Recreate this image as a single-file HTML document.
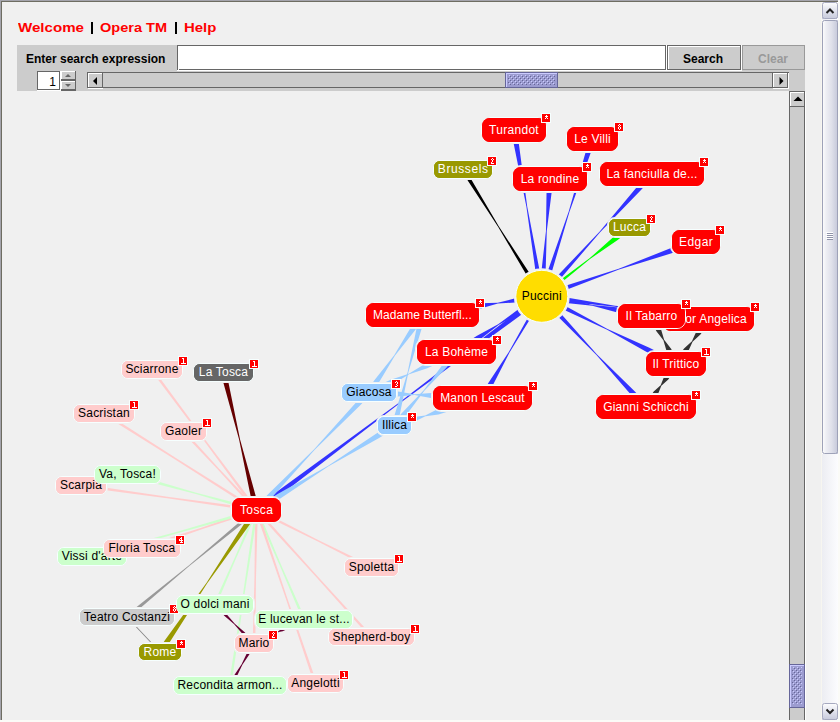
<!DOCTYPE html>
<html><head><meta charset="utf-8">
<style>
*{margin:0;padding:0;box-sizing:border-box}
html,body{width:840px;height:722px;overflow:hidden;background:#f0f0f0;font-family:"Liberation Sans",sans-serif}
.abs{position:absolute}
svg{position:absolute;left:0;top:0}
.hw{top:20px;font-weight:bold;font-size:13px;color:#ff0000;white-space:nowrap;transform-origin:0 0}
#lbl{left:26px;top:52px;font-weight:bold;font-size:12px;color:#000;white-space:nowrap}
.bt{font-weight:bold;font-size:12px;white-space:nowrap}
svg text{font-family:"Liberation Sans",sans-serif;font-size:12px;letter-spacing:0.2px}
</style></head><body>
<svg width="840" height="722" shape-rendering="crispEdges">
<defs>
 <pattern id="bumps" x="0" y="0" width="4" height="4" patternUnits="userSpaceOnUse">
  <rect x="1" y="3" width="1" height="1" fill="#ccccff"/><rect x="3" y="1" width="1" height="1" fill="#ccccff"/>
  <rect x="2" y="0" width="1" height="1" fill="#666699"/><rect x="0" y="2" width="1" height="1" fill="#666699"/>
 </pattern>
</defs>
<rect x="0" y="0" width="840" height="722" fill="#f0f0f0"/>
<!-- toolbar -->
<rect x="17" y="45" width="788" height="46" fill="#cccccc"/>
<!-- text field -->
<rect x="177" y="45" width="490" height="26" fill="#ffffff"/>
<rect x="177" y="45" width="489" height="1" fill="#666"/>
<rect x="177" y="45" width="1" height="25" fill="#666"/>
<rect x="179" y="69" width="487" height="1" fill="#666"/>
<rect x="665" y="45" width="1" height="25" fill="#666"/>
<!-- search button -->
<rect x="667" y="45" width="75" height="26" fill="#ffffff"/>
<rect x="667" y="45" width="74" height="25" fill="#666"/>
<rect x="668" y="46" width="72" height="23" fill="#ffffff"/>
<rect x="669" y="47" width="71" height="22" fill="#cccccc"/>
<!-- clear button -->
<rect x="742" y="45" width="63" height="25" fill="#999"/>
<rect x="743" y="46" width="61" height="23" fill="#cccccc"/>
<!-- spinner -->
<rect x="37" y="71" width="24" height="20" fill="#fff"/>
<rect x="37" y="71" width="23" height="19" fill="#666"/>
<rect x="38" y="72" width="21" height="17" fill="#fff"/>
<rect x="61" y="71" width="15" height="20" fill="#666"/>
<rect x="61" y="71" width="14" height="8" fill="#fff"/>
<rect x="62" y="72" width="13" height="7" fill="#ccc"/>
<rect x="61" y="81" width="14" height="8" fill="#fff"/>
<rect x="62" y="82" width="13" height="7" fill="#ccc"/>
<polygon points="68,74 71,77 65,77" fill="#666" shape-rendering="auto"/>
<polygon points="68,87 71,84 65,84" fill="#666" shape-rendering="auto"/>
<!-- hscroll -->
<rect x="87" y="72" width="702" height="16" fill="#666"/>
<rect x="88" y="73" width="685" height="14" fill="#cccccc"/>
<rect x="88" y="73" width="15" height="16" fill="#fff"/>
<rect x="89" y="74" width="13" height="13" fill="#ccc"/>
<rect x="102" y="73" width="1" height="15" fill="#666"/>
<rect x="88" y="87" width="15" height="1" fill="#666"/>
<rect x="773" y="73" width="16" height="16" fill="#fff"/>
<rect x="773" y="73" width="14" height="14" fill="#fff"/>
<rect x="774" y="74" width="13" height="13" fill="#ccc"/>
<rect x="787" y="72" width="1" height="16" fill="#666"/>
<rect x="772" y="87" width="16" height="1" fill="#666"/>
<rect x="772" y="72" width="1" height="16" fill="#666"/>
<polygon points="93,81 97,77 97,85" fill="#000" shape-rendering="auto"/>
<polygon points="783.5,81 779.5,77 779.5,85" fill="#000" shape-rendering="auto"/>
<!-- hthumb -->
<rect x="505" y="72" width="53" height="16" fill="#666699"/>
<rect x="506" y="73" width="51" height="14" fill="#ccccff"/>
<rect x="507" y="74" width="50" height="13" fill="#9c9cd0"/>
<rect x="508" y="75" width="47" height="10" fill="url(#bumps)"/>
<!-- vscroll (graph) -->
<rect x="789" y="91" width="16" height="629" fill="#666"/>
<rect x="805" y="92" width="1" height="628" fill="#fff"/>
<rect x="790" y="107" width="14" height="613" fill="#cccccc"/>
<rect x="790" y="92" width="14" height="15" fill="#fff"/>
<rect x="791" y="93" width="13" height="13" fill="#ccc"/>
<rect x="804" y="92" width="1" height="15" fill="#666"/>
<rect x="790" y="106" width="14" height="1" fill="#666"/>
<polygon points="798,96.5 802.5,101 793.5,101" fill="#000" shape-rendering="auto"/>
<rect x="789" y="664" width="16" height="44" fill="#666699"/>
<rect x="790" y="665" width="14" height="42" fill="#ccccff"/>
<rect x="791" y="666" width="13" height="41" fill="#9c9cd0"/>
<rect x="792" y="667" width="10" height="37" fill="url(#bumps)"/>
</svg>
<div class="abs hw" style="left:18px;transform:scaleX(1.161)">Welcome</div>
<div class="abs" style="left:91px;top:22px;width:2px;height:12px;background:#000"></div>
<div class="abs" style="left:175px;top:22px;width:2px;height:12px;background:#000"></div>
<div class="abs hw" style="left:100px;transform:scaleX(1.119)">Opera TM</div>
<div class="abs hw" style="left:184px;transform:scaleX(1.148)">Help</div>
<div class="abs" id="lbl">Enter search expression</div>
<div class="abs bt" style="left:683px;top:52px;color:#000">Search</div>
<div class="abs bt" style="left:758px;top:52px;color:#999">Clear</div>
<div class="abs" style="left:38px;top:75px;width:18px;text-align:right;font-size:12px">1</div>
<svg width="840" height="722">
<defs><clipPath id="gc"><rect x="17" y="91" width="772" height="629"/></clipPath></defs>
<g clip-path="url(#gc)">
<polygon points="543.77,295.97 539.24,268.85 527.20,206.52 518.81,143.59 516.47,129.59 511.53,130.41 513.87,144.41 526.41,206.65 535.29,269.51 539.83,296.63" fill="#3333ff"/>
<polygon points="543.70,296.91 552.14,270.74 569.49,211.69 590.37,153.77 594.88,139.77 590.12,138.23 585.61,152.23 568.73,211.44 548.33,269.51 539.90,295.69" fill="#3333ff"/>
<polygon points="543.80,296.44 545.71,269.01 546.77,230.96 551.52,193.17 552.49,179.17 547.51,178.83 546.53,192.83 545.97,230.91 541.72,268.73 539.80,296.16" fill="#3333ff"/>
<polygon points="543.29,297.64 561.69,277.21 600.09,232.20 641.24,189.67 653.86,175.67 650.14,172.33 637.53,186.33 599.50,231.67 558.72,274.53 540.31,294.96" fill="#3333ff"/>
<polygon points="542.57,297.28 564.21,280.31 590.02,258.98 617.66,239.97 631.04,229.47 627.96,225.53 614.57,236.03 589.53,258.35 562.67,278.34 541.03,295.32" fill="#00ff00"/>
<polygon points="542.46,298.19 568.40,289.05 619.00,269.54 670.83,253.51 696.83,244.36 695.17,239.64 669.17,248.80 618.74,268.78 567.07,285.28 541.14,294.41" fill="#3333ff"/>
<polygon points="543.29,295.38 528.77,272.02 498.74,226.26 471.01,179.08 464.49,168.58 461.51,170.42 468.04,180.92 498.07,226.68 525.80,273.87 540.31,297.22" fill="#000000"/>
<polygon points="541.49,294.32 514.32,298.58 497.75,302.80 480.61,303.36 422.11,312.53 422.89,317.47 481.39,308.30 497.88,303.59 514.94,302.53 542.11,298.28" fill="#3333ff"/>
<polygon points="541.45,298.27 568.51,303.13 592.36,305.79 615.56,312.09 651.06,318.46 651.94,313.54 616.44,307.16 592.50,305.00 569.22,299.19 542.15,294.33" fill="#3333ff"/>
<polygon points="541.53,298.28 568.78,301.99 614.97,306.67 660.66,315.01 708.16,321.48 708.84,316.52 661.34,310.05 615.08,305.87 569.32,298.03 542.07,294.32" fill="#3333ff"/>
<polygon points="540.71,294.63 517.68,309.66 498.14,324.33 476.57,335.91 455.13,349.91 457.87,354.09 479.31,340.09 498.58,325.00 519.87,313.01 542.89,297.97" fill="#3333ff"/>
<polygon points="540.90,298.09 565.45,310.47 607.12,329.70 647.12,352.23 674.87,366.23 677.13,361.77 649.37,347.77 607.48,328.99 567.25,306.90 542.70,294.51" fill="#3333ff"/>
<polygon points="540.72,295.67 526.87,319.43 508.96,351.83 488.50,382.74 480.34,396.74 484.66,399.26 492.82,385.26 509.65,352.23 529.03,320.69 542.88,296.93" fill="#3333ff"/>
<polygon points="540.34,297.67 559.19,317.70 596.44,354.94 631.00,394.71 644.18,408.71 647.82,405.29 634.64,391.29 597.03,354.39 562.10,314.95 543.26,294.93" fill="#3333ff"/>
<polygon points="540.30,294.30 518.29,310.79 397.22,404.03 273.69,494.00 255.00,508.00 258.00,512.00 276.69,498.00 397.76,404.75 521.29,314.79 543.30,298.30" fill="#3333ff"/>
<polygon points="371.06,393.92 378.31,383.42 394.87,355.73 414.89,330.42 424.56,316.42 420.44,313.58 410.78,327.58 394.21,355.27 374.19,380.58 366.94,391.08" fill="#99ccff"/>
<polygon points="396.92,426.11 399.58,415.61 408.44,372.10 421.38,329.61 424.92,315.61 420.08,314.39 416.53,328.39 407.67,371.90 394.74,414.39 392.08,424.89" fill="#99ccff"/>
<polygon points="370.05,394.77 392.74,384.27 409.14,374.36 427.30,368.27 457.55,354.27 455.45,349.73 425.20,363.73 408.80,373.64 390.64,379.73 367.95,390.23" fill="#99ccff"/>
<polygon points="396.41,427.11 405.27,416.61 424.33,390.76 446.60,367.61 458.41,353.61 454.59,350.39 442.78,364.39 423.72,390.24 401.45,413.39 392.59,423.89" fill="#99ccff"/>
<polygon points="368.88,395.00 397.88,396.40 414.48,395.10 430.88,398.00 482.38,400.50 482.62,395.50 431.12,393.01 414.52,394.31 398.12,391.41 369.12,390.00" fill="#99ccff"/>
<polygon points="395.25,427.89 413.75,422.10 425.47,416.24 438.45,414.39 483.25,400.39 481.75,395.61 436.95,409.61 425.23,415.48 412.25,417.33 393.75,423.11" fill="#99ccff"/>
<polygon points="367.19,390.77 357.14,401.27 314.14,449.22 268.10,494.27 254.69,508.27 258.31,511.73 271.71,497.73 314.71,449.78 360.75,404.73 370.81,394.23" fill="#99ccff"/>
<polygon points="393.19,423.37 376.05,433.87 328.15,465.66 278.06,493.87 255.19,507.87 257.81,512.13 280.67,498.13 328.57,466.34 378.66,438.13 395.81,427.63" fill="#99ccff"/>
<polygon points="678.23,362.86 671.08,348.86 664.11,339.82 660.87,328.86 653.73,314.86 649.27,317.14 656.42,331.14 663.39,340.18 666.63,351.14 673.77,365.14" fill="#333333"/>
<polygon points="678.03,365.46 688.14,351.46 692.57,341.73 700.42,334.46 710.53,320.46 706.47,317.54 696.36,331.54 691.93,341.27 684.08,348.54 673.97,362.54" fill="#333333"/>
<polygon points="673.95,362.57 664.18,376.57 660.67,385.27 653.72,391.57 643.95,405.57 648.05,408.43 657.82,394.43 661.33,385.73 668.28,379.43 678.05,365.43" fill="#333333"/>
<polygon points="258.93,509.42 255.57,495.42 240.07,439.38 228.45,382.42 225.93,371.92 221.07,373.08 223.59,383.58 239.09,439.62 250.71,496.58 254.07,510.58" fill="#660000"/>
<polygon points="257.50,509.25 247.09,495.25 203.55,437.55 160.81,379.25 153.00,368.75 151.00,370.25 158.81,380.75 202.35,438.45 245.08,496.75 255.50,510.75" fill="#ffcccc"/>
<polygon points="257.17,508.94 235.04,494.94 177.89,459.37 121.26,422.94 104.67,412.44 103.33,414.56 119.92,425.06 177.08,460.63 233.71,497.06 255.83,511.06" fill="#ffcccc"/>
<polygon points="257.42,509.15 244.40,495.15 218.92,468.49 194.18,441.15 184.42,430.65 182.58,432.35 192.35,442.85 217.82,469.51 242.57,496.85 255.58,510.85" fill="#ffcccc"/>
<polygon points="256.83,508.79 230.33,501.50 196.20,492.63 162.33,482.79 127.83,473.29 127.17,475.71 161.67,485.20 195.80,494.07 229.67,503.91 256.17,511.21" fill="#ccffcc"/>
<polygon points="256.67,508.76 230.17,505.06 169.10,497.04 108.17,488.03 81.17,484.26 80.83,486.74 107.83,490.51 168.90,498.53 229.83,507.54 256.33,511.24" fill="#ffcccc"/>
<polygon points="256.10,508.82 229.60,517.73 201.37,527.74 172.83,536.82 141.60,547.32 142.40,549.68 173.63,539.18 201.85,529.17 230.40,520.10 256.90,511.18" fill="#ffcccc"/>
<polygon points="256.16,508.80 229.66,516.29 178.80,531.19 127.66,545.12 91.66,555.30 92.34,557.70 128.34,547.53 179.20,532.63 230.34,518.69 256.84,511.20" fill="#ccffcc"/>
<polygon points="255.94,511.12 282.44,524.37 316.41,540.80 349.94,558.12 370.94,568.62 372.06,566.38 351.06,555.88 317.09,539.45 283.56,522.13 257.06,508.88" fill="#ffcccc"/>
<polygon points="255.36,509.50 249.21,523.50 234.29,558.70 218.47,593.50 213.86,604.00 216.14,605.00 220.76,594.50 235.67,559.30 251.50,524.50 257.64,510.50" fill="#ccffcc"/>
<polygon points="255.54,508.84 238.60,522.84 189.04,565.15 138.15,605.84 126.04,615.84 127.96,618.16 140.06,608.16 189.62,565.85 240.51,525.16 257.46,511.16" fill="#999999"/>
<polygon points="255.35,510.50 261.43,524.50 280.32,566.80 298.30,609.50 302.85,620.00 305.15,619.00 300.59,608.50 281.70,566.20 263.72,523.50 257.65,509.50" fill="#ccffcc"/>
<polygon points="255.25,509.98 254.99,523.98 254.47,578.49 252.95,632.98 252.75,643.48 255.25,643.52 255.45,633.02 255.97,578.51 257.49,524.02 257.75,510.02" fill="#ffcccc"/>
<polygon points="255.57,510.84 268.25,524.84 315.26,576.00 361.52,627.84 370.57,637.84 372.43,636.16 363.37,626.16 316.37,575.00 270.10,523.16 257.43,509.16" fill="#ffcccc"/>
<polygon points="254.43,508.59 244.92,522.59 206.56,582.78 164.73,640.59 157.93,650.59 162.07,653.41 168.86,643.41 207.22,583.22 249.05,525.41 258.57,511.41" fill="#999900"/>
<polygon points="255.26,509.81 253.15,523.81 242.24,599.39 230.35,674.81 228.76,685.31 231.24,685.69 232.82,675.19 243.73,599.61 255.62,524.19 257.74,510.19" fill="#ccffcc"/>
<polygon points="255.32,510.40 260.08,524.40 285.89,598.74 310.75,673.40 314.32,683.90 316.68,683.10 313.11,672.60 287.31,598.26 262.44,523.60 257.68,509.60" fill="#ffcccc"/>
<polygon points="126.64,617.34 136.06,627.34 143.14,634.84 150.21,642.34 159.64,652.34 160.36,651.66 150.94,641.66 143.86,634.16 136.79,626.66 127.36,616.66" fill="#888888"/>
<polygon points="254.92,642.58 244.42,632.08 234.82,623.68 226.42,614.08 215.92,603.58 214.08,605.42 224.58,615.92 234.18,624.32 242.58,633.92 253.08,644.42" fill="#660033"/>
<polygon points="252.87,642.86 246.87,653.36 241.61,664.28 234.87,674.36 228.87,684.86 231.13,686.14 237.13,675.64 242.39,664.72 249.13,654.64 255.13,644.14" fill="#660033"/>
<polygon points="254.56,644.67 275.56,634.59 278.76,632.12 282.69,631.17 304.56,620.67 303.44,618.33 281.56,628.83 278.37,631.30 274.44,632.25 253.44,642.33" fill="#660033"/>
<circle cx="541.8" cy="296.3" r="28.0" fill="#f0f0f0"/><circle cx="541.8" cy="296.3" r="26.0" fill="#ffdd00" stroke="#f6ffff" stroke-width="1"/><text x="541.8" y="300" fill="#000" text-anchor="middle">Puccini</text>
<rect x="480" y="116" width="68" height="28" rx="10" fill="#f0f0f0"/>
<rect x="565" y="125" width="55" height="28" rx="10" fill="#f0f0f0"/>
<rect x="432" y="159" width="62" height="21" rx="8" fill="#f0f0f0"/>
<rect x="511" y="165" width="78" height="28" rx="10" fill="#f0f0f0"/>
<rect x="598" y="160" width="108" height="28" rx="10" fill="#f0f0f0"/>
<rect x="607" y="217" width="45" height="21" rx="8" fill="#f0f0f0"/>
<rect x="670" y="228" width="52" height="28" rx="10" fill="#f0f0f0"/>
<rect x="364" y="301" width="117" height="28" rx="10" fill="#f0f0f0"/>
<rect x="661" y="305" width="95" height="28" rx="10" fill="#f0f0f0"/>
<rect x="616" y="302" width="71" height="28" rx="10" fill="#f0f0f0"/>
<rect x="415" y="338" width="83" height="28" rx="10" fill="#f0f0f0"/>
<rect x="644" y="350" width="64" height="28" rx="10" fill="#f0f0f0"/>
<rect x="431" y="384" width="103" height="28" rx="10" fill="#f0f0f0"/>
<rect x="594" y="393" width="104" height="28" rx="10" fill="#f0f0f0"/>
<rect x="340" y="382" width="58" height="21" rx="8" fill="#f0f0f0"/>
<rect x="376" y="415" width="37" height="21" rx="8" fill="#f0f0f0"/>
<rect x="120" y="359" width="64" height="21" rx="8" fill="#f0f0f0"/>
<rect x="192" y="362" width="63" height="21" rx="8" fill="#f0f0f0"/>
<rect x="72" y="403" width="64" height="21" rx="8" fill="#f0f0f0"/>
<rect x="159" y="421" width="49" height="21" rx="8" fill="#f0f0f0"/>
<rect x="54" y="475" width="54" height="21" rx="8" fill="#f0f0f0"/>
<rect x="93" y="464" width="69" height="21" rx="8" fill="#f0f0f0"/>
<rect x="230" y="496" width="53" height="28" rx="10" fill="#f0f0f0"/>
<rect x="56" y="546" width="72" height="21" rx="8" fill="#f0f0f0"/>
<rect x="102" y="538" width="80" height="21" rx="8" fill="#f0f0f0"/>
<rect x="343" y="557" width="57" height="21" rx="8" fill="#f0f0f0"/>
<rect x="78" y="607" width="98" height="20" rx="8" fill="#f0f0f0"/>
<rect x="175" y="594" width="80" height="21" rx="8" fill="#f0f0f0"/>
<rect x="254" y="609" width="100" height="21" rx="8" fill="#f0f0f0"/>
<rect x="233" y="633" width="42" height="21" rx="8" fill="#f0f0f0"/>
<rect x="327" y="627" width="89" height="20" rx="8" fill="#f0f0f0"/>
<rect x="137" y="642" width="46" height="20" rx="8" fill="#f0f0f0"/>
<rect x="172" y="675" width="116" height="21" rx="8" fill="#f0f0f0"/>
<rect x="286" y="673" width="59" height="21" rx="8" fill="#f0f0f0"/>
<rect x="481.5" y="117.5" width="65" height="25" rx="8.5" fill="#ff0000" stroke="#f6ffff" stroke-width="1"/>
<rect x="482" y="118" width="64" height="24" rx="8" fill="#ff0000"/>
<text x="514.0" y="134.0" fill="#fff" text-anchor="middle" style="letter-spacing:0.30px">Turandot</text>
<rect x="541" y="113" width="10" height="10" fill="#f6ffff"/>
<rect x="542" y="114" width="8" height="8" fill="#ff0000"/>
<rect x="546" y="115" width="1" height="1" fill="#fff"/>
<rect x="545" y="116" width="1" height="1" fill="#fff"/>
<rect x="546" y="116" width="1" height="1" fill="#fff"/>
<rect x="547" y="116" width="1" height="1" fill="#fff"/>
<rect x="546" y="117" width="1" height="1" fill="#fff"/>
<rect x="545" y="118" width="1" height="1" fill="#fff"/>
<rect x="547" y="118" width="1" height="1" fill="#fff"/>
<rect x="566.5" y="126.5" width="52" height="25" rx="8.5" fill="#ff0000" stroke="#f6ffff" stroke-width="1"/>
<rect x="567" y="127" width="51" height="24" rx="8" fill="#ff0000"/>
<text x="592.5" y="143.0" fill="#fff" text-anchor="middle">Le Villi</text>
<rect x="614" y="122" width="10" height="10" fill="#f6ffff"/>
<rect x="615" y="123" width="8" height="8" fill="#ff0000"/>
<rect x="619" y="124" width="1" height="1" fill="#fff"/>
<rect x="618" y="125" width="1" height="1" fill="#fff"/>
<rect x="620" y="125" width="1" height="1" fill="#fff"/>
<rect x="619" y="126" width="1" height="1" fill="#fff"/>
<rect x="618" y="127" width="1" height="1" fill="#fff"/>
<rect x="620" y="127" width="1" height="1" fill="#fff"/>
<rect x="618" y="128" width="1" height="1" fill="#fff"/>
<rect x="620" y="128" width="1" height="1" fill="#fff"/>
<rect x="619" y="129" width="1" height="1" fill="#fff"/>
<rect x="433.5" y="160.5" width="59" height="18" rx="6.5" fill="#999900" stroke="#f6ffff" stroke-width="1"/>
<rect x="434" y="161" width="58" height="17" rx="6" fill="#999900"/>
<text x="463.2" y="172.6" fill="#fff" text-anchor="middle" style="letter-spacing:0.60px">Brussels</text>
<rect x="487" y="156" width="10" height="10" fill="#f6ffff"/>
<rect x="488" y="157" width="8" height="8" fill="#ff0000"/>
<rect x="492" y="158" width="1" height="1" fill="#fff"/>
<rect x="491" y="159" width="1" height="1" fill="#fff"/>
<rect x="493" y="159" width="1" height="1" fill="#fff"/>
<rect x="492" y="160" width="1" height="1" fill="#fff"/>
<rect x="492" y="161" width="1" height="1" fill="#fff"/>
<rect x="491" y="162" width="1" height="1" fill="#fff"/>
<rect x="491" y="163" width="1" height="1" fill="#fff"/>
<rect x="492" y="163" width="1" height="1" fill="#fff"/>
<rect x="493" y="163" width="1" height="1" fill="#fff"/>
<rect x="512.5" y="166.5" width="75" height="25" rx="8.5" fill="#ff0000" stroke="#f6ffff" stroke-width="1"/>
<rect x="513" y="167" width="74" height="24" rx="8" fill="#ff0000"/>
<text x="550.0" y="183.0" fill="#fff" text-anchor="middle">La rondine</text>
<rect x="582" y="162" width="10" height="10" fill="#f6ffff"/>
<rect x="583" y="163" width="8" height="8" fill="#ff0000"/>
<rect x="587" y="164" width="1" height="1" fill="#fff"/>
<rect x="586" y="165" width="1" height="1" fill="#fff"/>
<rect x="587" y="165" width="1" height="1" fill="#fff"/>
<rect x="588" y="165" width="1" height="1" fill="#fff"/>
<rect x="587" y="166" width="1" height="1" fill="#fff"/>
<rect x="586" y="167" width="1" height="1" fill="#fff"/>
<rect x="588" y="167" width="1" height="1" fill="#fff"/>
<rect x="599.5" y="161.5" width="105" height="25" rx="8.5" fill="#ff0000" stroke="#f6ffff" stroke-width="1"/>
<rect x="600" y="162" width="104" height="24" rx="8" fill="#ff0000"/>
<text x="652.0" y="178.0" fill="#fff" text-anchor="middle">La fanciulla de...</text>
<rect x="699" y="157" width="10" height="10" fill="#f6ffff"/>
<rect x="700" y="158" width="8" height="8" fill="#ff0000"/>
<rect x="704" y="159" width="1" height="1" fill="#fff"/>
<rect x="703" y="160" width="1" height="1" fill="#fff"/>
<rect x="704" y="160" width="1" height="1" fill="#fff"/>
<rect x="705" y="160" width="1" height="1" fill="#fff"/>
<rect x="704" y="161" width="1" height="1" fill="#fff"/>
<rect x="703" y="162" width="1" height="1" fill="#fff"/>
<rect x="705" y="162" width="1" height="1" fill="#fff"/>
<rect x="608.5" y="218.5" width="42" height="18" rx="6.5" fill="#999900" stroke="#f6ffff" stroke-width="1"/>
<rect x="609" y="219" width="41" height="17" rx="6" fill="#999900"/>
<text x="629.5" y="230.6" fill="#fff" text-anchor="middle">Lucca</text>
<rect x="646" y="214" width="10" height="10" fill="#f6ffff"/>
<rect x="647" y="215" width="8" height="8" fill="#ff0000"/>
<rect x="651" y="216" width="1" height="1" fill="#fff"/>
<rect x="650" y="217" width="1" height="1" fill="#fff"/>
<rect x="652" y="217" width="1" height="1" fill="#fff"/>
<rect x="651" y="218" width="1" height="1" fill="#fff"/>
<rect x="651" y="219" width="1" height="1" fill="#fff"/>
<rect x="650" y="220" width="1" height="1" fill="#fff"/>
<rect x="650" y="221" width="1" height="1" fill="#fff"/>
<rect x="651" y="221" width="1" height="1" fill="#fff"/>
<rect x="652" y="221" width="1" height="1" fill="#fff"/>
<rect x="671.5" y="229.5" width="49" height="25" rx="8.5" fill="#ff0000" stroke="#f6ffff" stroke-width="1"/>
<rect x="672" y="230" width="48" height="24" rx="8" fill="#ff0000"/>
<text x="696.1" y="246.0" fill="#fff" text-anchor="middle" style="letter-spacing:0.45px">Edgar</text>
<rect x="715" y="225" width="10" height="10" fill="#f6ffff"/>
<rect x="716" y="226" width="8" height="8" fill="#ff0000"/>
<rect x="720" y="227" width="1" height="1" fill="#fff"/>
<rect x="719" y="228" width="1" height="1" fill="#fff"/>
<rect x="720" y="228" width="1" height="1" fill="#fff"/>
<rect x="721" y="228" width="1" height="1" fill="#fff"/>
<rect x="720" y="229" width="1" height="1" fill="#fff"/>
<rect x="719" y="230" width="1" height="1" fill="#fff"/>
<rect x="721" y="230" width="1" height="1" fill="#fff"/>
<rect x="365.5" y="302.5" width="114" height="25" rx="8.5" fill="#ff0000" stroke="#f6ffff" stroke-width="1"/>
<rect x="366" y="303" width="113" height="24" rx="8" fill="#ff0000"/>
<text x="422.4" y="319.0" fill="#fff" text-anchor="middle" style="letter-spacing:0.05px">Madame Butterfl...</text>
<rect x="475" y="298" width="10" height="10" fill="#f6ffff"/>
<rect x="476" y="299" width="8" height="8" fill="#ff0000"/>
<rect x="480" y="300" width="1" height="1" fill="#fff"/>
<rect x="479" y="301" width="1" height="1" fill="#fff"/>
<rect x="480" y="301" width="1" height="1" fill="#fff"/>
<rect x="481" y="301" width="1" height="1" fill="#fff"/>
<rect x="480" y="302" width="1" height="1" fill="#fff"/>
<rect x="479" y="303" width="1" height="1" fill="#fff"/>
<rect x="481" y="303" width="1" height="1" fill="#fff"/>
<rect x="662.5" y="306.5" width="92" height="25" rx="8.5" fill="#ff0000" stroke="#f6ffff" stroke-width="1"/>
<rect x="663" y="307" width="91" height="24" rx="8" fill="#ff0000"/>
<text x="708.5" y="323.0" fill="#fff" text-anchor="middle">Suor Angelica</text>
<rect x="750" y="302" width="10" height="10" fill="#f6ffff"/>
<rect x="751" y="303" width="8" height="8" fill="#ff0000"/>
<rect x="755" y="304" width="1" height="1" fill="#fff"/>
<rect x="754" y="305" width="1" height="1" fill="#fff"/>
<rect x="755" y="305" width="1" height="1" fill="#fff"/>
<rect x="756" y="305" width="1" height="1" fill="#fff"/>
<rect x="755" y="306" width="1" height="1" fill="#fff"/>
<rect x="754" y="307" width="1" height="1" fill="#fff"/>
<rect x="756" y="307" width="1" height="1" fill="#fff"/>
<rect x="617.5" y="303.5" width="68" height="25" rx="8.5" fill="#ff0000" stroke="#f6ffff" stroke-width="1"/>
<rect x="618" y="304" width="67" height="24" rx="8" fill="#ff0000"/>
<text x="651.5" y="320.0" fill="#fff" text-anchor="middle">Il Tabarro</text>
<rect x="681" y="299" width="10" height="10" fill="#f6ffff"/>
<rect x="682" y="300" width="8" height="8" fill="#ff0000"/>
<rect x="686" y="301" width="1" height="1" fill="#fff"/>
<rect x="685" y="302" width="1" height="1" fill="#fff"/>
<rect x="686" y="302" width="1" height="1" fill="#fff"/>
<rect x="687" y="302" width="1" height="1" fill="#fff"/>
<rect x="686" y="303" width="1" height="1" fill="#fff"/>
<rect x="685" y="304" width="1" height="1" fill="#fff"/>
<rect x="687" y="304" width="1" height="1" fill="#fff"/>
<rect x="416.5" y="339.5" width="80" height="25" rx="8.5" fill="#ff0000" stroke="#f6ffff" stroke-width="1"/>
<rect x="417" y="340" width="79" height="24" rx="8" fill="#ff0000"/>
<text x="456.5" y="356.0" fill="#fff" text-anchor="middle">La Bohème</text>
<rect x="492" y="335" width="10" height="10" fill="#f6ffff"/>
<rect x="493" y="336" width="8" height="8" fill="#ff0000"/>
<rect x="497" y="337" width="1" height="1" fill="#fff"/>
<rect x="496" y="338" width="1" height="1" fill="#fff"/>
<rect x="497" y="338" width="1" height="1" fill="#fff"/>
<rect x="498" y="338" width="1" height="1" fill="#fff"/>
<rect x="497" y="339" width="1" height="1" fill="#fff"/>
<rect x="496" y="340" width="1" height="1" fill="#fff"/>
<rect x="498" y="340" width="1" height="1" fill="#fff"/>
<rect x="645.5" y="351.5" width="61" height="25" rx="8.5" fill="#ff0000" stroke="#f6ffff" stroke-width="1"/>
<rect x="646" y="352" width="60" height="24" rx="8" fill="#ff0000"/>
<text x="676.0" y="368.0" fill="#fff" text-anchor="middle">Il Trittico</text>
<rect x="701" y="347" width="10" height="10" fill="#f6ffff"/>
<rect x="702" y="348" width="8" height="8" fill="#ff0000"/>
<rect x="705" y="349" width="1" height="1" fill="#fff"/>
<rect x="706" y="349" width="1" height="1" fill="#fff"/>
<rect x="706" y="350" width="1" height="1" fill="#fff"/>
<rect x="706" y="351" width="1" height="1" fill="#fff"/>
<rect x="706" y="352" width="1" height="1" fill="#fff"/>
<rect x="706" y="353" width="1" height="1" fill="#fff"/>
<rect x="704" y="354" width="1" height="1" fill="#fff"/>
<rect x="705" y="354" width="1" height="1" fill="#fff"/>
<rect x="706" y="354" width="1" height="1" fill="#fff"/>
<rect x="707" y="354" width="1" height="1" fill="#fff"/>
<rect x="708" y="354" width="1" height="1" fill="#fff"/>
<rect x="432.5" y="385.5" width="100" height="25" rx="8.5" fill="#ff0000" stroke="#f6ffff" stroke-width="1"/>
<rect x="433" y="386" width="99" height="24" rx="8" fill="#ff0000"/>
<text x="482.5" y="402.0" fill="#fff" text-anchor="middle">Manon Lescaut</text>
<rect x="528" y="381" width="10" height="10" fill="#f6ffff"/>
<rect x="529" y="382" width="8" height="8" fill="#ff0000"/>
<rect x="533" y="383" width="1" height="1" fill="#fff"/>
<rect x="532" y="384" width="1" height="1" fill="#fff"/>
<rect x="533" y="384" width="1" height="1" fill="#fff"/>
<rect x="534" y="384" width="1" height="1" fill="#fff"/>
<rect x="533" y="385" width="1" height="1" fill="#fff"/>
<rect x="532" y="386" width="1" height="1" fill="#fff"/>
<rect x="534" y="386" width="1" height="1" fill="#fff"/>
<rect x="595.5" y="394.5" width="101" height="25" rx="8.5" fill="#ff0000" stroke="#f6ffff" stroke-width="1"/>
<rect x="596" y="395" width="100" height="24" rx="8" fill="#ff0000"/>
<text x="646.0" y="411.0" fill="#fff" text-anchor="middle">Gianni Schicchi</text>
<rect x="691" y="390" width="10" height="10" fill="#f6ffff"/>
<rect x="692" y="391" width="8" height="8" fill="#ff0000"/>
<rect x="696" y="392" width="1" height="1" fill="#fff"/>
<rect x="695" y="393" width="1" height="1" fill="#fff"/>
<rect x="696" y="393" width="1" height="1" fill="#fff"/>
<rect x="697" y="393" width="1" height="1" fill="#fff"/>
<rect x="696" y="394" width="1" height="1" fill="#fff"/>
<rect x="695" y="395" width="1" height="1" fill="#fff"/>
<rect x="697" y="395" width="1" height="1" fill="#fff"/>
<rect x="341.5" y="383.5" width="55" height="18" rx="6.5" fill="#99ccff" stroke="#f6ffff" stroke-width="1"/>
<rect x="342" y="384" width="54" height="17" rx="6" fill="#99ccff"/>
<text x="369.0" y="395.6" fill="#000" text-anchor="middle">Giacosa</text>
<rect x="391" y="379" width="10" height="10" fill="#f6ffff"/>
<rect x="392" y="380" width="8" height="8" fill="#ff0000"/>
<rect x="396" y="381" width="1" height="1" fill="#fff"/>
<rect x="395" y="382" width="1" height="1" fill="#fff"/>
<rect x="397" y="382" width="1" height="1" fill="#fff"/>
<rect x="397" y="383" width="1" height="1" fill="#fff"/>
<rect x="396" y="384" width="1" height="1" fill="#fff"/>
<rect x="397" y="385" width="1" height="1" fill="#fff"/>
<rect x="395" y="386" width="1" height="1" fill="#fff"/>
<rect x="396" y="386" width="1" height="1" fill="#fff"/>
<rect x="377.5" y="416.5" width="34" height="18" rx="6.5" fill="#99ccff" stroke="#f6ffff" stroke-width="1"/>
<rect x="378" y="417" width="33" height="17" rx="6" fill="#99ccff"/>
<text x="394.5" y="428.6" fill="#000" text-anchor="middle">Illica</text>
<rect x="407" y="412" width="10" height="10" fill="#f6ffff"/>
<rect x="408" y="413" width="8" height="8" fill="#ff0000"/>
<rect x="412" y="414" width="1" height="1" fill="#fff"/>
<rect x="411" y="415" width="1" height="1" fill="#fff"/>
<rect x="412" y="415" width="1" height="1" fill="#fff"/>
<rect x="413" y="415" width="1" height="1" fill="#fff"/>
<rect x="412" y="416" width="1" height="1" fill="#fff"/>
<rect x="411" y="417" width="1" height="1" fill="#fff"/>
<rect x="413" y="417" width="1" height="1" fill="#fff"/>
<rect x="121.5" y="360.5" width="61" height="18" rx="6.5" fill="#ffcccc" stroke="#f6ffff" stroke-width="1"/>
<rect x="122" y="361" width="60" height="17" rx="6" fill="#ffcccc"/>
<text x="152.0" y="372.6" fill="#000" text-anchor="middle">Sciarrone</text>
<rect x="178" y="356" width="10" height="10" fill="#f6ffff"/>
<rect x="179" y="357" width="8" height="8" fill="#ff0000"/>
<rect x="182" y="358" width="1" height="1" fill="#fff"/>
<rect x="183" y="358" width="1" height="1" fill="#fff"/>
<rect x="183" y="359" width="1" height="1" fill="#fff"/>
<rect x="183" y="360" width="1" height="1" fill="#fff"/>
<rect x="183" y="361" width="1" height="1" fill="#fff"/>
<rect x="183" y="362" width="1" height="1" fill="#fff"/>
<rect x="181" y="363" width="1" height="1" fill="#fff"/>
<rect x="182" y="363" width="1" height="1" fill="#fff"/>
<rect x="183" y="363" width="1" height="1" fill="#fff"/>
<rect x="184" y="363" width="1" height="1" fill="#fff"/>
<rect x="185" y="363" width="1" height="1" fill="#fff"/>
<rect x="193.5" y="363.5" width="60" height="18" rx="6.5" fill="#666666" stroke="#f6ffff" stroke-width="1"/>
<rect x="194" y="364" width="59" height="17" rx="6" fill="#666666"/>
<text x="223.5" y="375.6" fill="#fff" text-anchor="middle">La Tosca</text>
<rect x="249" y="359" width="10" height="10" fill="#f6ffff"/>
<rect x="250" y="360" width="8" height="8" fill="#ff0000"/>
<rect x="253" y="361" width="1" height="1" fill="#fff"/>
<rect x="254" y="361" width="1" height="1" fill="#fff"/>
<rect x="254" y="362" width="1" height="1" fill="#fff"/>
<rect x="254" y="363" width="1" height="1" fill="#fff"/>
<rect x="254" y="364" width="1" height="1" fill="#fff"/>
<rect x="254" y="365" width="1" height="1" fill="#fff"/>
<rect x="252" y="366" width="1" height="1" fill="#fff"/>
<rect x="253" y="366" width="1" height="1" fill="#fff"/>
<rect x="254" y="366" width="1" height="1" fill="#fff"/>
<rect x="255" y="366" width="1" height="1" fill="#fff"/>
<rect x="256" y="366" width="1" height="1" fill="#fff"/>
<rect x="73.5" y="404.5" width="61" height="18" rx="6.5" fill="#ffcccc" stroke="#f6ffff" stroke-width="1"/>
<rect x="74" y="405" width="60" height="17" rx="6" fill="#ffcccc"/>
<text x="104.0" y="416.6" fill="#000" text-anchor="middle">Sacristan</text>
<rect x="129" y="400" width="10" height="10" fill="#f6ffff"/>
<rect x="130" y="401" width="8" height="8" fill="#ff0000"/>
<rect x="133" y="402" width="1" height="1" fill="#fff"/>
<rect x="134" y="402" width="1" height="1" fill="#fff"/>
<rect x="134" y="403" width="1" height="1" fill="#fff"/>
<rect x="134" y="404" width="1" height="1" fill="#fff"/>
<rect x="134" y="405" width="1" height="1" fill="#fff"/>
<rect x="134" y="406" width="1" height="1" fill="#fff"/>
<rect x="132" y="407" width="1" height="1" fill="#fff"/>
<rect x="133" y="407" width="1" height="1" fill="#fff"/>
<rect x="134" y="407" width="1" height="1" fill="#fff"/>
<rect x="135" y="407" width="1" height="1" fill="#fff"/>
<rect x="136" y="407" width="1" height="1" fill="#fff"/>
<rect x="160.5" y="422.5" width="46" height="18" rx="6.5" fill="#ffcccc" stroke="#f6ffff" stroke-width="1"/>
<rect x="161" y="423" width="45" height="17" rx="6" fill="#ffcccc"/>
<text x="183.5" y="434.6" fill="#000" text-anchor="middle">Gaoler</text>
<rect x="202" y="418" width="10" height="10" fill="#f6ffff"/>
<rect x="203" y="419" width="8" height="8" fill="#ff0000"/>
<rect x="206" y="420" width="1" height="1" fill="#fff"/>
<rect x="207" y="420" width="1" height="1" fill="#fff"/>
<rect x="207" y="421" width="1" height="1" fill="#fff"/>
<rect x="207" y="422" width="1" height="1" fill="#fff"/>
<rect x="207" y="423" width="1" height="1" fill="#fff"/>
<rect x="207" y="424" width="1" height="1" fill="#fff"/>
<rect x="205" y="425" width="1" height="1" fill="#fff"/>
<rect x="206" y="425" width="1" height="1" fill="#fff"/>
<rect x="207" y="425" width="1" height="1" fill="#fff"/>
<rect x="208" y="425" width="1" height="1" fill="#fff"/>
<rect x="209" y="425" width="1" height="1" fill="#fff"/>
<rect x="55.5" y="476.5" width="51" height="18" rx="6.5" fill="#ffcccc" stroke="#f6ffff" stroke-width="1"/>
<rect x="56" y="477" width="50" height="17" rx="6" fill="#ffcccc"/>
<text x="81.0" y="488.6" fill="#000" text-anchor="middle">Scarpia</text>
<rect x="94.5" y="465.5" width="66" height="18" rx="6.5" fill="#ccffcc" stroke="#f6ffff" stroke-width="1"/>
<rect x="95" y="466" width="65" height="17" rx="6" fill="#ccffcc"/>
<text x="127.5" y="477.6" fill="#000" text-anchor="middle">Va, Tosca!</text>
<rect x="231.5" y="497.5" width="50" height="25" rx="8.5" fill="#ff0000" stroke="#f6ffff" stroke-width="1"/>
<rect x="232" y="498" width="49" height="24" rx="8" fill="#ff0000"/>
<text x="256.6" y="514.0" fill="#fff" text-anchor="middle" style="letter-spacing:0.40px">Tosca</text>
<rect x="57.5" y="547.5" width="69" height="18" rx="6.5" fill="#ccffcc" stroke="#f6ffff" stroke-width="1"/>
<rect x="58" y="548" width="68" height="17" rx="6" fill="#ccffcc"/>
<text x="92.0" y="559.6" fill="#000" text-anchor="middle">Vissi d&#39;arte</text>
<rect x="103.5" y="539.5" width="77" height="18" rx="6.5" fill="#ffcccc" stroke="#f6ffff" stroke-width="1"/>
<rect x="104" y="540" width="76" height="17" rx="6" fill="#ffcccc"/>
<text x="142.0" y="551.6" fill="#000" text-anchor="middle">Floria Tosca</text>
<rect x="175" y="535" width="10" height="10" fill="#f6ffff"/>
<rect x="176" y="536" width="8" height="8" fill="#ff0000"/>
<rect x="181" y="537" width="1" height="1" fill="#fff"/>
<rect x="180" y="538" width="1" height="1" fill="#fff"/>
<rect x="181" y="538" width="1" height="1" fill="#fff"/>
<rect x="179" y="539" width="1" height="1" fill="#fff"/>
<rect x="181" y="539" width="1" height="1" fill="#fff"/>
<rect x="179" y="540" width="1" height="1" fill="#fff"/>
<rect x="180" y="540" width="1" height="1" fill="#fff"/>
<rect x="181" y="540" width="1" height="1" fill="#fff"/>
<rect x="182" y="540" width="1" height="1" fill="#fff"/>
<rect x="181" y="541" width="1" height="1" fill="#fff"/>
<rect x="180" y="542" width="1" height="1" fill="#fff"/>
<rect x="181" y="542" width="1" height="1" fill="#fff"/>
<rect x="182" y="542" width="1" height="1" fill="#fff"/>
<rect x="344.5" y="558.5" width="54" height="18" rx="6.5" fill="#ffcccc" stroke="#f6ffff" stroke-width="1"/>
<rect x="345" y="559" width="53" height="17" rx="6" fill="#ffcccc"/>
<text x="371.5" y="570.6" fill="#000" text-anchor="middle">Spoletta</text>
<rect x="394" y="554" width="10" height="10" fill="#f6ffff"/>
<rect x="395" y="555" width="8" height="8" fill="#ff0000"/>
<rect x="398" y="556" width="1" height="1" fill="#fff"/>
<rect x="399" y="556" width="1" height="1" fill="#fff"/>
<rect x="399" y="557" width="1" height="1" fill="#fff"/>
<rect x="399" y="558" width="1" height="1" fill="#fff"/>
<rect x="399" y="559" width="1" height="1" fill="#fff"/>
<rect x="399" y="560" width="1" height="1" fill="#fff"/>
<rect x="397" y="561" width="1" height="1" fill="#fff"/>
<rect x="398" y="561" width="1" height="1" fill="#fff"/>
<rect x="399" y="561" width="1" height="1" fill="#fff"/>
<rect x="400" y="561" width="1" height="1" fill="#fff"/>
<rect x="401" y="561" width="1" height="1" fill="#fff"/>
<rect x="79.5" y="608.5" width="95" height="17" rx="6.5" fill="#cccccc" stroke="#f6ffff" stroke-width="1"/>
<rect x="80" y="609" width="94" height="16" rx="6" fill="#cccccc"/>
<text x="127.0" y="620.6" fill="#000" text-anchor="middle">Teatro Costanzi</text>
<rect x="169" y="604" width="10" height="10" fill="#f6ffff"/>
<rect x="170" y="605" width="8" height="8" fill="#ff0000"/>
<rect x="174" y="606" width="1" height="1" fill="#fff"/>
<rect x="173" y="607" width="1" height="1" fill="#fff"/>
<rect x="175" y="607" width="1" height="1" fill="#fff"/>
<rect x="174" y="608" width="1" height="1" fill="#fff"/>
<rect x="173" y="609" width="1" height="1" fill="#fff"/>
<rect x="175" y="609" width="1" height="1" fill="#fff"/>
<rect x="173" y="610" width="1" height="1" fill="#fff"/>
<rect x="175" y="610" width="1" height="1" fill="#fff"/>
<rect x="174" y="611" width="1" height="1" fill="#fff"/>
<rect x="176.5" y="595.5" width="77" height="18" rx="6.5" fill="#ccffcc" stroke="#f6ffff" stroke-width="1"/>
<rect x="177" y="596" width="76" height="17" rx="6" fill="#ccffcc"/>
<text x="215.0" y="607.6" fill="#000" text-anchor="middle">O dolci mani</text>
<rect x="255.5" y="610.5" width="97" height="18" rx="6.5" fill="#ccffcc" stroke="#f6ffff" stroke-width="1"/>
<rect x="256" y="611" width="96" height="17" rx="6" fill="#ccffcc"/>
<text x="304.0" y="622.6" fill="#000" text-anchor="middle">E lucevan le st...</text>
<rect x="234.5" y="634.5" width="39" height="18" rx="6.5" fill="#ffcccc" stroke="#f6ffff" stroke-width="1"/>
<rect x="235" y="635" width="38" height="17" rx="6" fill="#ffcccc"/>
<text x="254.0" y="646.6" fill="#000" text-anchor="middle">Mario</text>
<rect x="268" y="630" width="10" height="10" fill="#f6ffff"/>
<rect x="269" y="631" width="8" height="8" fill="#ff0000"/>
<rect x="273" y="632" width="1" height="1" fill="#fff"/>
<rect x="272" y="633" width="1" height="1" fill="#fff"/>
<rect x="274" y="633" width="1" height="1" fill="#fff"/>
<rect x="273" y="634" width="1" height="1" fill="#fff"/>
<rect x="273" y="635" width="1" height="1" fill="#fff"/>
<rect x="272" y="636" width="1" height="1" fill="#fff"/>
<rect x="272" y="637" width="1" height="1" fill="#fff"/>
<rect x="273" y="637" width="1" height="1" fill="#fff"/>
<rect x="274" y="637" width="1" height="1" fill="#fff"/>
<rect x="328.5" y="628.5" width="86" height="17" rx="6.5" fill="#ffcccc" stroke="#f6ffff" stroke-width="1"/>
<rect x="329" y="629" width="85" height="16" rx="6" fill="#ffcccc"/>
<text x="371.5" y="640.6" fill="#000" text-anchor="middle">Shepherd-boy</text>
<rect x="410" y="624" width="10" height="10" fill="#f6ffff"/>
<rect x="411" y="625" width="8" height="8" fill="#ff0000"/>
<rect x="414" y="626" width="1" height="1" fill="#fff"/>
<rect x="415" y="626" width="1" height="1" fill="#fff"/>
<rect x="415" y="627" width="1" height="1" fill="#fff"/>
<rect x="415" y="628" width="1" height="1" fill="#fff"/>
<rect x="415" y="629" width="1" height="1" fill="#fff"/>
<rect x="415" y="630" width="1" height="1" fill="#fff"/>
<rect x="413" y="631" width="1" height="1" fill="#fff"/>
<rect x="414" y="631" width="1" height="1" fill="#fff"/>
<rect x="415" y="631" width="1" height="1" fill="#fff"/>
<rect x="416" y="631" width="1" height="1" fill="#fff"/>
<rect x="417" y="631" width="1" height="1" fill="#fff"/>
<rect x="138.5" y="643.5" width="43" height="17" rx="6.5" fill="#999900" stroke="#f6ffff" stroke-width="1"/>
<rect x="139" y="644" width="42" height="16" rx="6" fill="#999900"/>
<text x="160.0" y="655.6" fill="#fff" text-anchor="middle">Rome</text>
<rect x="176" y="639" width="10" height="10" fill="#f6ffff"/>
<rect x="177" y="640" width="8" height="8" fill="#ff0000"/>
<rect x="181" y="641" width="1" height="1" fill="#fff"/>
<rect x="180" y="642" width="1" height="1" fill="#fff"/>
<rect x="181" y="642" width="1" height="1" fill="#fff"/>
<rect x="182" y="642" width="1" height="1" fill="#fff"/>
<rect x="181" y="643" width="1" height="1" fill="#fff"/>
<rect x="180" y="644" width="1" height="1" fill="#fff"/>
<rect x="182" y="644" width="1" height="1" fill="#fff"/>
<rect x="173.5" y="676.5" width="113" height="18" rx="6.5" fill="#ccffcc" stroke="#f6ffff" stroke-width="1"/>
<rect x="174" y="677" width="112" height="17" rx="6" fill="#ccffcc"/>
<text x="230.0" y="688.6" fill="#000" text-anchor="middle">Recondita armon...</text>
<rect x="287.5" y="674.5" width="56" height="18" rx="6.5" fill="#ffcccc" stroke="#f6ffff" stroke-width="1"/>
<rect x="288" y="675" width="55" height="17" rx="6" fill="#ffcccc"/>
<text x="315.5" y="686.6" fill="#000" text-anchor="middle">Angelotti</text>
<rect x="339" y="670" width="10" height="10" fill="#f6ffff"/>
<rect x="340" y="671" width="8" height="8" fill="#ff0000"/>
<rect x="343" y="672" width="1" height="1" fill="#fff"/>
<rect x="344" y="672" width="1" height="1" fill="#fff"/>
<rect x="344" y="673" width="1" height="1" fill="#fff"/>
<rect x="344" y="674" width="1" height="1" fill="#fff"/>
<rect x="344" y="675" width="1" height="1" fill="#fff"/>
<rect x="344" y="676" width="1" height="1" fill="#fff"/>
<rect x="342" y="677" width="1" height="1" fill="#fff"/>
<rect x="343" y="677" width="1" height="1" fill="#fff"/>
<rect x="344" y="677" width="1" height="1" fill="#fff"/>
<rect x="345" y="677" width="1" height="1" fill="#fff"/>
<rect x="346" y="677" width="1" height="1" fill="#fff"/>
</g>
</svg>
<svg width="840" height="722" shape-rendering="crispEdges">
<defs>
 <linearGradient id="xbtn" x1="0" y1="0" x2="0" y2="1"><stop offset="0" stop-color="#ffffff"/><stop offset="0.55" stop-color="#dfe1ec"/><stop offset="1" stop-color="#c6c9da"/></linearGradient>
 <linearGradient id="xth" x1="0" y1="0" x2="1" y2="0"><stop offset="0" stop-color="#ffffff"/><stop offset="0.25" stop-color="#eeeff4"/><stop offset="0.6" stop-color="#dfe0ea"/><stop offset="1" stop-color="#c4c7d9"/></linearGradient>
 <linearGradient id="xtr" x1="0" y1="0" x2="1" y2="0"><stop offset="0" stop-color="#ecedf2"/><stop offset="1" stop-color="#fcfcfe"/></linearGradient>
</defs>
<rect x="821" y="2" width="1" height="718" fill="#f7f6f0"/>
<rect x="822" y="2" width="16" height="718" fill="url(#xtr)"/>
<rect x="822" y="2" width="16" height="17" rx="2" fill="url(#xbtn)" stroke="none"/>
<rect x="822.5" y="2.5" width="15" height="16" rx="2" fill="none" stroke="#a6a9bf" shape-rendering="auto"/>
<rect x="822" y="703" width="16" height="17" rx="2" fill="url(#xbtn)"/>
<rect x="822.5" y="703.5" width="15" height="16" rx="2" fill="none" stroke="#a6a9bf" shape-rendering="auto"/>
<rect x="822" y="20" width="16" height="434" fill="url(#xth)"/>
<rect x="822.5" y="20.5" width="15" height="433" rx="2" fill="none" stroke="#9ea2b8" shape-rendering="auto"/>
<rect x="827" y="233" width="6" height="1" fill="#8e92a8"/><rect x="827" y="235" width="6" height="1" fill="#8e92a8"/>
<rect x="827" y="237" width="6" height="1" fill="#8e92a8"/><rect x="827" y="239" width="6" height="1" fill="#8e92a8"/>
<rect x="826" y="232" width="7" height="1" fill="#fff"/><rect x="826" y="234" width="7" height="1" fill="#fff"/>
<rect x="826" y="236" width="7" height="1" fill="#fff"/><rect x="826" y="238" width="7" height="1" fill="#fff"/>
<polyline points="826.5,13 830,9.5 833.5,13" fill="none" stroke="#222" stroke-width="2" shape-rendering="auto"/>
<polyline points="826.5,709.5 830,713 833.5,709.5" fill="none" stroke="#222" stroke-width="2" shape-rendering="auto"/>
<!-- frame border -->
<rect x="0" y="0" width="838" height="1" fill="#a4a4ac"/>
<rect x="1" y="1" width="837" height="1" fill="#6e6d62"/>
<rect x="0" y="0" width="1" height="722" fill="#a4a4ac"/>
<rect x="1" y="1" width="1" height="719" fill="#6e6d62"/>
<rect x="838" y="0" width="2" height="722" fill="#fbfbf7"/>
<rect x="0" y="720" width="840" height="2" fill="#fbfbf7"/>
</svg>
</body></html>
